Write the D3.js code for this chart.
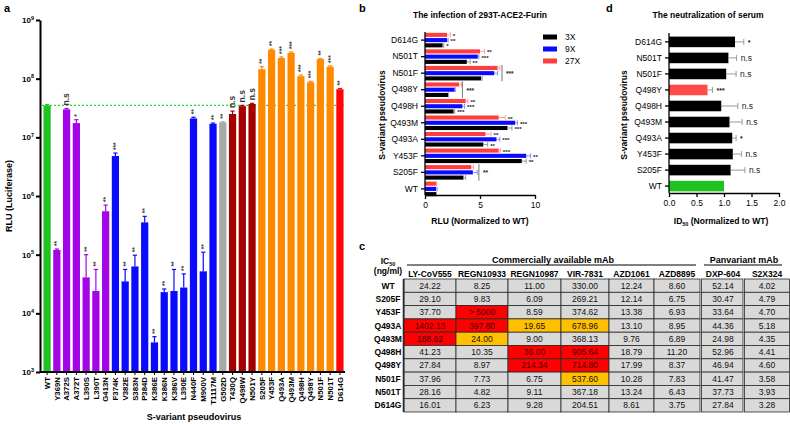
<!DOCTYPE html>
<html>
<head>
<meta charset="utf-8">
<script src="https://cdn.jsdelivr.net/npm/d3@7"></script>
<style>
body { margin: 0; background: #fff; }
text { font-family: "Liberation Sans", Arial, sans-serif; }
</style>
</head>
<body>
<svg id="fig" width="790" height="424"></svg>
<script>
// ---------------- panel a data ----------------
var variantsA = ["WT", "Y369N", "A372S", "A372T", "L390S", "L390T", "G413N", "F374K", "V382E", "S383N",
    "P384D", "K386E", "K386N", "K386V", "L390E", "N440F", "M900V", "T1117M", "G502D", "T430Q", "Q498W",
    "N501Y", "S205F", "Y453F", "Q493A", "Q493M", "Q498H", "Q498Y", "N501F", "N501T", "D614G"];
var groupA = ["wt", "purple", "purple", "purple", "purple", "purple", "purple", "blue", "blue", "blue",
    "blue", "blue", "blue", "blue", "blue", "blue", "blue", "blue", "gray", "darkred", "darkred",
    "darkred", "orange", "orange", "orange", "orange", "orange", "orange", "orange", "orange", "red"];
var rluA = [3.5e7, 1.2e5, 3.0e7, 1.75e7, 4.1e4, 2.4e4, 5.5e5, 4.8e6, 3.5e4, 6.3e4,
    3.55e5, 3.2e3, 2.3e4, 2.4e4, 2.75e4, 2.1e7, 5.2e4, 1.7e7, 1.8e7, 2.5e7, 3.4e7,
    3.7e7, 1.45e8, 3.1e8, 2.25e8, 2.75e8, 1.1e8, 8.7e7, 2.15e8, 1.6e8, 6.6e7];
var rluUpperA = [3.6e7, 1.25e5, 3.1e7, 2.0e7, 1.0e5, 5.6e4, 7.0e5, 5.4e6, 5.6e4, 9.8e4,
    4.5e5, 4.0e3, 2.6e4, 5.6e4, 4.7e4, 2.2e7, 1.1e5, 1.75e7, 1.85e7, 2.8e7, 3.5e7,
    3.8e7, 1.6e8, 3.2e8, 2.35e8, 2.85e8, 1.15e8, 9.0e7, 2.2e8, 1.65e8, 6.8e7];
var sigA = ["", "**", "n.s", "*", "**", "**", "**", "***", "**", "**",
    "**", "**", "**", "**", "**", "**", "**", "**", "**", "n.s", "n.s",
    "n.s", "**", "**", "***", "***", "***", "***", "**", "***", "**"];
var decadesA = [1e3, 1e4, 1e5, 1e6, 1e7, 1e8, 1e9];

// ---------------- panel b data ----------------
var catsB = ["D614G", "N501T", "N501F", "Q498Y", "Q498H", "Q493M", "Q493A", "Y453F", "S205F", "WT"];
var seriesB = ["27X", "9X", "3X"];
var rlu3x = [1.6, 3.8, 5.1, 2.1, 2.6, 7.5, 5.3, 8.8, 3.5, 1.0];
var rlu9x = [2.0, 4.8, 6.3, 2.7, 3.4, 8.2, 6.5, 9.2, 4.35, 1.0];
var rlu27x = [2.0, 5.0, 6.6, 3.1, 3.7, 6.7, 5.5, 6.7, 4.2, 1.0];
var err3x = [0.1, 0.3, 0.1, 0.05, 0.1, 0.4, 0.4, 0.4, 0.2, 0.05];
var err9x = [0.1, 0.1, 0.3, 0.05, 0.2, 0.2, 0.3, 0.4, 0.4, 0.1];
var err27x = [0.3, 0.4, 0.2, 0.2, 0.2, 0.6, 0.5, 0.15, 0.2, 0.05];
var sig3x = ["*", "**", "", "", "***", "***", "**", "**", "", ""];
var sig9x = ["**", "***", "", "", "***", "***", "***", "**", "", ""];
var sig27x = ["*", "**", "", "", "**", "**", "**", "***", "", ""];
var bracketCats = ["N501F", "Q498Y", "S205F"];
var bracketAt = [7.0, 3.4, 4.9];
var bracketSig = ["***", "***", "**"];

// ---------------- panel d data ----------------
var catsD = ["D614G", "N501T", "N501F", "Q498Y", "Q498H", "Q493M", "Q493A", "Y453F", "S205F", "WT"];
var id50 = [1.20, 1.08, 1.04, 0.70, 0.95, 1.10, 1.15, 1.16, 1.12, 1.00];
var id50Err = [0.16, 0.15, 0.18, 0.09, 0.30, 0.23, 0.07, 0.16, 0.26, 0];
var sigD = ["*", "n.s", "n.s", "***", "n.s", "n.s", "*", "n.s", "n.s", ""];

// ---------------- panel c data ----------------
var mAbs = ["LY-CoV555", "REGN10933", "REGN10987", "VIR-7831", "AZD1061", "AZD8895", "DXP-604", "S2X324"];
var tableRows = ["WT", "S205F", "Y453F", "Q493A", "Q493M", "Q498H", "Q498Y", "N501F", "N501T", "D614G"];
var ic50 = [
    ["24.22", "8.25", "11.00", "330.00", "12.24", "8.60", "52.14", "4.02"],
    ["29.10", "9.83", "6.09", "269.21", "12.14", "6.75", "30.47", "4.79"],
    ["37.70", "> 5000", "8.59", "374.62", "13.38", "6.93", "33.64", "4.70"],
    ["1402.13", "397.80", "19.65", "678.96", "13.10", "8.95", "44.36", "5.18"],
    ["188.62", "24.00", "9.00", "368.13", "9.76", "6.89", "24.98", "4.35"],
    ["41.23", "10.35", "36.00", "905.64", "18.79", "11.20", "52.96", "4.41"],
    ["27.84", "8.97", "214.34", "714.80", "17.99", "8.37", "46.94", "4.60"],
    ["37.96", "7.73", "6.75", "537.60", "10.28", "7.83", "41.47", "3.58"],
    ["28.16", "4.82", "9.11", "367.18", "13.24", "6.43", "37.73", "3.93"],
    ["16.01", "6.23", "9.28", "204.51", "8.61", "3.75", "27.84", "3.28"]
];
// 0 = no change, 1 = moderate escape, 2 = strong escape
var escapeLevel = [
    [0, 0, 0, 0, 0, 0, 0, 0],
    [0, 0, 0, 0, 0, 0, 0, 0],
    [0, 2, 0, 0, 0, 0, 0, 0],
    [2, 2, 1, 1, 0, 0, 0, 0],
    [2, 1, 0, 0, 0, 0, 0, 0],
    [0, 0, 2, 2, 0, 0, 0, 0],
    [0, 0, 2, 2, 0, 0, 0, 0],
    [0, 0, 0, 1, 0, 0, 0, 0],
    [0, 0, 0, 0, 0, 0, 0, 0],
    [0, 0, 0, 0, 0, 0, 0, 0]
];

/************************************** drawing **************************************/
var svg = d3.select("#fig");

function letter(x, y, t) {
    svg.append("text").attr("x", x).attr("y", y).attr("font-size", 11)
        .attr("font-weight", "bold").text(t);
}
function styleAxis(g, w) {
    g.selectAll("path,line").attr("stroke", "#000").attr("stroke-width", w);
    g.selectAll("text").attr("fill", "#000").attr("font-family", "Liberation Sans, Arial, sans-serif");
}

/* ---------- panel a ---------- */
var colorA = { wt: "#1fc21f", purple: "#a305e6", blue: "#0a0aff", gray: "#a8a8a8",
    darkred: "#a50000", orange: "#ff8a00", red: "#ff0505" };
var gA = svg.append("g");
var yA = d3.scaleLog().domain([1e3, 1e9]).range([372, 20]);
var xA = d3.scaleBand().domain(variantsA).range([42, 345]).paddingInner(0.26).paddingOuter(0.15);

gA.append("line")
    .attr("x1", 42).attr("x2", 345)
    .attr("y1", yA(rluA[0])).attr("y2", yA(rluA[0]))
    .attr("stroke", "#22dd22").attr("stroke-width", 1.1).attr("stroke-dasharray", "2,2");

var barsA = gA.append("g").selectAll("g").data(variantsA).enter().append("g");
barsA.append("rect")
    .attr("x", function (d) { return xA(d); })
    .attr("width", xA.bandwidth())
    .attr("y", function (d, i) { return yA(rluA[i]); })
    .attr("height", function (d, i) { return 372 - yA(rluA[i]); })
    .attr("fill", function (d, i) { return colorA[groupA[i]]; });
barsA.append("line")
    .attr("x1", function (d) { return xA(d) + xA.bandwidth() / 2; })
    .attr("x2", function (d) { return xA(d) + xA.bandwidth() / 2; })
    .attr("y1", function (d, i) { return yA(rluA[i]); })
    .attr("y2", function (d, i) { return yA(rluUpperA[i]); })
    .attr("stroke", function (d, i) { return colorA[groupA[i]]; }).attr("stroke-width", 1.2);
barsA.append("line")
    .attr("x1", function (d) { return xA(d) + 1.5; })
    .attr("x2", function (d) { return xA(d) + xA.bandwidth() - 1.5; })
    .attr("y1", function (d, i) { return yA(rluUpperA[i]); })
    .attr("y2", function (d, i) { return yA(rluUpperA[i]); })
    .attr("stroke", function (d, i) { return colorA[groupA[i]]; }).attr("stroke-width", 1.2);
barsA.append("text")
    .attr("transform", function (d, i) {
        return "translate(" + (xA(d) + xA.bandwidth() / 2 + 2.5) + "," + (yA(rluUpperA[i]) - 3) + ") rotate(-90)";
    })
    .attr("font-size", function (d, i) { return sigA[i] === "n.s" ? 8.5 : 6.5; })
    .attr("font-weight", "bold")
    .attr("fill", "#333")
    .text(function (d, i) { return sigA[i]; });

var axYA = gA.append("g").attr("transform", "translate(40,0)")
    .call(d3.axisLeft(yA).tickValues(decadesA).tickSize(4).tickSizeOuter(0)
        .tickFormat(function () { return ""; }));
styleAxis(axYA, 2);
axYA.selectAll(".tick text").attr("font-size", 8).attr("font-weight", "bold").attr("x", -6)
    .each(function (d) {
        var t = d3.select(this);
        t.append("tspan").text("10");
        t.append("tspan").attr("dy", -3.5).attr("font-size", 5.5).text(Math.round(Math.log10(d)));
    });
var axXA = gA.append("g").attr("transform", "translate(0,372)")
    .call(d3.axisBottom(xA).tickSize(3).tickSizeOuter(0));
styleAxis(axXA, 2);
axXA.select(".domain").attr("d", "M40,0H345");
axXA.selectAll(".tick line").attr("stroke-width", 1);
axXA.selectAll(".tick text")
    .attr("transform", "rotate(-90)")
    .attr("x", -5).attr("y", 0).attr("dy", "0.35em")
    .attr("text-anchor", "end").attr("font-size", 7.8).attr("font-weight", "bold");

gA.append("text").attr("transform", "translate(12,196) rotate(-90)")
    .attr("text-anchor", "middle").attr("font-size", 9).attr("font-weight", "bold")
    .text("RLU (Luciferase)");
gA.append("text").attr("x", 194).attr("y", 420)
    .attr("text-anchor", "middle").attr("font-size", 9).attr("font-weight", "bold")
    .text("S-variant pseudovirus");
letter(4, 12, "a");

/* ---------- panel b ---------- */
var colorB = { "3X": "#000000", "9X": "#0a0aff", "27X": "#ff3d3d" };
var errColorB = { "3X": "#9a9a9a", "9X": "#8a8aff", "27X": "#ff9e9e" };
var valsB = { "3X": rlu3x, "9X": rlu9x, "27X": rlu27x };
var errsB = { "3X": err3x, "9X": err9x, "27X": err27x };
var sigsB = { "3X": sig3x, "9X": sig9x, "27X": sig27x };

var gB = svg.append("g");
var xB = d3.scaleLinear().domain([0, 10]).range([425, 535]);
var yB = d3.scaleBand().domain(catsB).range([32, 197]).paddingInner(0.12).paddingOuter(0.05);
var y1B = d3.scaleBand().domain(seriesB).range([0, yB.bandwidth()]).paddingInner(0.22);

var grpB = gB.append("g").selectAll("g").data(catsB).enter().append("g")
    .attr("transform", function (d) { return "translate(0," + yB(d) + ")"; });
seriesB.forEach(function (s) {
    grpB.append("rect")
        .attr("x", xB(0))
        .attr("y", y1B(s))
        .attr("height", y1B.bandwidth())
        .attr("width", function (d, i) { return xB(valsB[s][i]) - xB(0); })
        .attr("fill", colorB[s]);
    grpB.append("line")
        .attr("x1", function (d, i) { return xB(valsB[s][i]); })
        .attr("x2", function (d, i) { return xB(valsB[s][i] + errsB[s][i]); })
        .attr("y1", y1B(s) + y1B.bandwidth() / 2).attr("y2", y1B(s) + y1B.bandwidth() / 2)
        .attr("stroke", errColorB[s]).attr("stroke-width", 1);
    grpB.append("line")
        .attr("x1", function (d, i) { return xB(valsB[s][i] + errsB[s][i]); })
        .attr("x2", function (d, i) { return xB(valsB[s][i] + errsB[s][i]); })
        .attr("y1", y1B(s) - 0.5).attr("y2", y1B(s) + y1B.bandwidth() + 0.5)
        .attr("stroke", errColorB[s]).attr("stroke-width", 1);
    grpB.append("text")
        .attr("x", function (d, i) { return xB(valsB[s][i] + errsB[s][i]) + 2.5; })
        .attr("y", y1B(s) + y1B.bandwidth() / 2 + 3)
        .attr("font-size", 6.2).attr("font-weight", "bold").attr("fill", "#222")
        .text(function (d, i) { return sigsB[s][i]; });
});
bracketCats.forEach(function (c, k) {
    gB.append("line")
        .attr("x1", xB(bracketAt[k])).attr("x2", xB(bracketAt[k]))
        .attr("y1", yB(c) - 1).attr("y2", yB(c) + yB.bandwidth() + 1)
        .attr("stroke", "#777").attr("stroke-width", 1);
    gB.append("text")
        .attr("x", xB(bracketAt[k]) + 4).attr("y", yB(c) + yB.bandwidth() / 2 + 3)
        .attr("font-size", 6.5).attr("font-weight", "bold").attr("fill", "#222")
        .text(bracketSig[k]);
});
var axXB = gB.append("g").attr("transform", "translate(0,195)")
    .call(d3.axisBottom(xB).tickValues([0, 5, 10]).tickSize(4).tickSizeOuter(0));
styleAxis(axXB, 1.3);
axXB.selectAll(".tick text").attr("font-size", 8.5).attr("y", 7);
var axYB = gB.append("g").attr("transform", "translate(425,0)")
    .call(d3.axisLeft(yB).tickSize(4).tickSizeOuter(0));
styleAxis(axYB, 1.3);
axYB.select(".domain").attr("d", "M0,32V195");
axYB.selectAll(".tick text").attr("font-size", 8.5);
gB.append("text").attr("x", 480).attr("y", 18).attr("text-anchor", "middle")
    .attr("font-size", 8.5).attr("font-weight", "bold").text("The infection of 293T-ACE2-Furin");
gB.append("text").attr("x", 480).attr("y", 224).attr("text-anchor", "middle")
    .attr("font-size", 8.5).attr("font-weight", "bold").text("RLU (Normalized to WT)");
gB.append("text").attr("transform", "translate(385,115) rotate(-90)").attr("text-anchor", "middle")
    .attr("font-size", 8.5).attr("font-weight", "bold").text("S-variant pseudovirus");
var legB = gB.append("g").selectAll("g").data(["3X", "9X", "27X"]).enter().append("g")
    .attr("transform", function (d, i) { return "translate(543," + (37 + i * 12) + ")"; });
legB.append("rect").attr("x", 0).attr("y", -2.5).attr("width", 14).attr("height", 5)
    .attr("fill", function (d) { return colorB[d]; });
legB.append("text").attr("x", 22).attr("y", 3).attr("font-size", 8.5).text(function (d) { return d; });
letter(359, 12, "b");

/* ---------- panel d ---------- */
var gD = svg.append("g");
var xD = d3.scaleLinear().domain([0, 2]).range([669, 779]);
var yD = d3.scaleBand().domain(catsD).range([35, 193]).paddingInner(0.34).paddingOuter(0.1);
var rowD = gD.append("g").selectAll("g").data(catsD).enter().append("g")
    .attr("transform", function (d) { return "translate(0," + yD(d) + ")"; });
rowD.append("rect")
    .attr("x", xD(0)).attr("y", 0).attr("height", yD.bandwidth())
    .attr("width", function (d, i) { return xD(id50[i]) - xD(0); })
    .attr("fill", function (d, i) {
        return d === "WT" ? "#1fc21f" : (sigD[i] === "***" ? "#ff4a4a" : "#000");
    });
rowD.filter(function (d, i) { return id50Err[i] > 0; }).each(function (d) {
    var i = catsD.indexOf(d), g = d3.select(this), m = yD.bandwidth() / 2;
    g.append("line").attr("x1", xD(id50[i])).attr("x2", xD(id50[i] + id50Err[i]))
        .attr("y1", m).attr("y2", m).attr("stroke", "#9a9a9a").attr("stroke-width", 1);
    g.append("line").attr("x1", xD(id50[i] + id50Err[i])).attr("x2", xD(id50[i] + id50Err[i]))
        .attr("y1", m - 3).attr("y2", m + 3).attr("stroke", "#9a9a9a").attr("stroke-width", 1);
    g.append("text").attr("x", xD(id50[i] + id50Err[i]) + 4).attr("y", m + 3)
        .attr("font-size", sigD[i] === "n.s" ? 8.5 : 7).attr("fill", "#222")
        .attr("font-weight", sigD[i] === "n.s" ? "normal" : "bold")
        .text(sigD[i]);
});
var axXD = gD.append("g").attr("transform", "translate(0,193)")
    .call(d3.axisBottom(xD).tickValues([0, 0.5, 1, 1.5, 2]).tickFormat(d3.format(".1f"))
        .tickSize(4).tickSizeOuter(0));
styleAxis(axXD, 1.3);
axXD.selectAll(".tick text").attr("font-size", 8.5).attr("y", 7);
var axYD = gD.append("g").attr("transform", "translate(669,0)")
    .call(d3.axisLeft(yD).tickSize(4).tickSizeOuter(0));
styleAxis(axYD, 1.3);
axYD.select(".domain").attr("d", "M0,33V193");
axYD.selectAll(".tick text").attr("font-size", 8.5);
gD.append("text").attr("x", 708).attr("y", 18).attr("text-anchor", "middle")
    .attr("font-size", 8.5).attr("font-weight", "bold").text("The neutralization of serum");
var tD = gD.append("text").attr("x", 721).attr("y", 224).attr("text-anchor", "middle")
    .attr("font-size", 8.5).attr("font-weight", "bold");
tD.append("tspan").text("ID");
tD.append("tspan").attr("font-size", 5.5).attr("dy", 2).text("50");
tD.append("tspan").attr("dy", -2).text(" (Normalized to WT)");
gD.append("text").attr("transform", "translate(627,115) rotate(-90)").attr("text-anchor", "middle")
    .attr("font-size", 8.5).attr("font-weight", "bold").text("S-variant pseudovirus");
letter(606, 12, "d");

/* ---------- panel c (table) ---------- */
var escapeFill = ["#d9d9d9", "#ffc000", "#ff0000"];
var colW = [52, 52, 53, 48, 45, 46, 43, 45];
var colX = [];
colW.reduce(function (acc, w, j) { colX.push(acc + (j === 6 ? 1.5 : 0)); return acc + w + (j === 6 ? 1.5 : 0); }, 404);
var rowY = d3.scaleBand().domain(tableRows).range([279, 412]);
var gC = svg.append("g");

tableRows.forEach(function (r, i) {
    gC.append("text").attr("x", 388).attr("y", rowY(r) + rowY.bandwidth() / 2).attr("dy", "0.35em")
        .attr("text-anchor", "middle").attr("font-size", 8.5).attr("font-weight", "bold").text(r);
    mAbs.forEach(function (m, j) {
        gC.append("rect").attr("x", colX[j]).attr("y", rowY(r))
            .attr("width", colW[j] - (j === 6 ? 1.5 : 0)).attr("height", rowY.bandwidth())
            .attr("fill", escapeFill[escapeLevel[i][j]])
            .attr("stroke", "#2a2a2a").attr("stroke-width", 0.8);
        gC.append("text").attr("x", colX[j] + colW[j] / 2).attr("y", rowY(r) + rowY.bandwidth() / 2)
            .attr("dy", "0.35em").attr("text-anchor", "middle").attr("font-size", 8.5)
            .attr("fill", escapeLevel[i][j] === 2 ? "#3a0000" : "#111")
            .text(ic50[i][j]);
    });
});
gC.append("line").attr("x1", 403.5).attr("x2", 403.5).attr("y1", 279).attr("y2", 412)
    .attr("stroke", "#2a2a2a").attr("stroke-width", 1.6);
mAbs.forEach(function (m, j) {
    gC.append("text").attr("x", colX[j] + colW[j] / 2).attr("y", 276.5).attr("text-anchor", "middle")
        .attr("font-size", 8.5).attr("font-weight", "bold").text(m);
});
gC.append("line").attr("x1", 407).attr("x2", 696).attr("y1", 265).attr("y2", 265)
    .attr("stroke", "#000").attr("stroke-width", 1);
gC.append("line").attr("x1", 704).attr("x2", 782).attr("y1", 265).attr("y2", 265)
    .attr("stroke", "#000").attr("stroke-width", 1);
gC.append("text").attr("x", 553).attr("y", 263).attr("text-anchor", "middle")
    .attr("font-size", 9).attr("font-weight", "bold").text("Commercially available mAb");
gC.append("text").attr("x", 744).attr("y", 263).attr("text-anchor", "middle")
    .attr("font-size", 9).attr("font-weight", "bold").text("Panvariant mAb");
var ic = gC.append("text").attr("x", 388).attr("y", 264).attr("text-anchor", "middle")
    .attr("font-size", 8.5).attr("font-weight", "bold");
ic.append("tspan").text("IC");
ic.append("tspan").attr("font-size", 5.5).attr("dy", 2).text("50");
gC.append("text").attr("x", 388).attr("y", 274).attr("text-anchor", "middle")
    .attr("font-size", 8.5).attr("font-weight", "bold").text("(ng/ml)");
letter(359, 250, "c");
</script>
</body>
</html>
